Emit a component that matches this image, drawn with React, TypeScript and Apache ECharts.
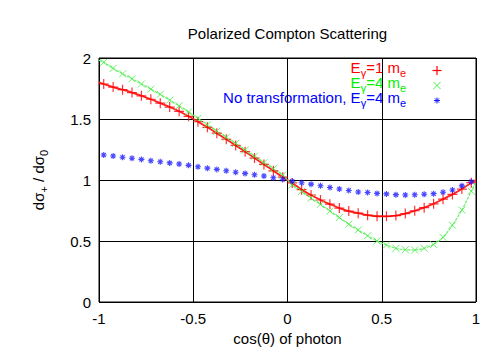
import React, { useEffect, useRef } from "react";
import * as echarts from "echarts";

// bin centres of cos(theta)
const cosTheta = [
  -0.975, -0.925, -0.875, -0.825, -0.775, -0.725, -0.675, -0.625, -0.575, -0.525,
  -0.475, -0.425, -0.375, -0.325, -0.275, -0.225, -0.175, -0.125, -0.075, -0.025,
  0.025, 0.075, 0.125, 0.175, 0.225, 0.275, 0.325, 0.375, 0.425, 0.475,
  0.525, 0.575, 0.625, 0.675, 0.725, 0.775, 0.825, 0.875, 0.925, 0.975,
];

// E_gamma = 1 m_e
const ratioE1 = [
  1.787, 1.762, 1.74, 1.717, 1.69, 1.662, 1.63, 1.598, 1.563, 1.522,
  1.478, 1.432, 1.384, 1.334, 1.283, 1.232, 1.18, 1.128, 1.075, 1.023,
  0.976, 0.921, 0.877, 0.836, 0.802, 0.77, 0.745, 0.728, 0.712, 0.703,
  0.702, 0.708, 0.725, 0.748, 0.773, 0.805, 0.843, 0.882, 0.926, 0.978,
];

// E_gamma = 4 m_e
const ratioE4 = [
  1.965, 1.915, 1.87, 1.83, 1.787, 1.745, 1.702, 1.655, 1.608, 1.558,
  1.505, 1.452, 1.4, 1.35, 1.3, 1.245, 1.195, 1.142, 1.093, 1.04,
  0.96, 0.907, 0.852, 0.8, 0.745, 0.692, 0.638, 0.59, 0.543, 0.5,
  0.467, 0.44, 0.429, 0.426, 0.44, 0.472, 0.53, 0.63, 0.754, 0.908,
];

// No transformation, E_gamma = 4 m_e
const ratioNoTransform = [
  1.205, 1.197, 1.187, 1.178, 1.169, 1.158, 1.15, 1.14, 1.131, 1.12,
  1.109, 1.097, 1.087, 1.076, 1.064, 1.054, 1.043, 1.033, 1.019, 1.006,
  0.99, 0.977, 0.966, 0.953, 0.938, 0.926, 0.914, 0.902, 0.897, 0.89,
  0.886, 0.88, 0.877, 0.879, 0.883, 0.888, 0.899, 0.918, 0.952, 0.986,
];

// curve values at the ends and at the centre (for the connecting lines)
const curveExtraX = [-1, 0, 1];
const curveExtraE1 = [1.8, 1.0, 1.0];
const curveExtraE4 = [1.98, 1.0, 0.99];

const xTicks = [-1, -0.5, 0, 0.5, 1];
const yTicks = [0, 0.5, 1, 1.5, 2];

const titleText = "Polarized Compton Scattering";
const xName = "cos(θ) of photon";

const FONT = "'Liberation Sans', Arial, Helvetica, sans-serif";

const PLUS = "path://M0 5 L10 5 M5 0 L5 10";
const CROSS = "path://M0 0 L10 10 M0 10 L10 0";
const STAR = "path://M0 5 L10 5 M5 0 L5 10 M1.5 1.5 L8.5 8.5 M1.5 8.5 L8.5 1.5";

function pairs(xs: number[], ys: number[]) {
  return xs.map((x, i) => [x, ys[i]]);
}
function curve(xs: number[], ys: number[], ex: number[], ey: number[]) {
  return pairs(xs, ys)
    .concat(pairs(ex, ey))
    .sort((a, b) => a[0] - b[0]);
}

const legendItems = [
  { sub: "γ", mid: "=1 m", color: "#ff0000", markColor: "#ff0000", mark: "plus" },
  { sub: "γ", mid: "=4 m", color: "#00ee00", markColor: "#44ee44", mark: "cross" },
  { pre: "No transformation, ", sub: "γ", mid: "=4 m", color: "#0000ff", markColor: "#1a1aff", mark: "star" },
];

const LH = 22;

export default function App() {
  const ref = useRef<HTMLDivElement>(null);
  useEffect(() => {
    if (!ref.current) return;
    const chart = echarts.init(ref.current, undefined, { renderer: "svg" });

    const legendX = 406;
    const symX = 437;
    const graphics: any[] = [
      {
        type: "text",
        x: 287.5,
        y: 33,
        style: {
          text: titleText,
          font: `15px ${FONT}`,
          fill: "#000",
          textAlign: "center",
          textVerticalAlign: "middle",
        },
      },
    ];
    legendItems.forEach((it, i) => {
      const cy = 67.5 + i * 15;
      const color = it.color;
      graphics.push({
        type: "text",
        x: legendX,
        y: cy - LH / 2,
        style: {
          text: `{n|${it.pre || ""}E}{s|${it.sub}}{n|${it.mid}}{s|e}`,
          textAlign: "right",
          textVerticalAlign: "top",
          rich: {
            n: { fontSize: 15, fontFamily: FONT, lineHeight: LH, fill: color, color },
            s: { fontSize: 11, fontFamily: FONT, verticalAlign: "bottom", fill: color, color },
          },
        },
      });
      const sy = cy + 3;
      const h = it.mark === "plus" ? 4.5 : it.mark === "cross" ? 3.5 : 3;
      const lines: number[][][] = [];
      if (it.mark === "plus" || it.mark === "star") {
        lines.push([[symX - h, sy], [symX + h, sy]]);
        lines.push([[symX, sy - h], [symX, sy + h]]);
      }
      if (it.mark === "cross" || it.mark === "star") {
        const d = it.mark === "star" ? h * 0.7 : h;
        lines.push([[symX - d, sy - d], [symX + d, sy + d]]);
        lines.push([[symX - d, sy + d], [symX + d, sy - d]]);
      }
      lines.forEach((l) => {
        graphics.push({
          type: "line",
          shape: { x1: l[0][0], y1: l[0][1], x2: l[1][0], y2: l[1][1] },
          style: { stroke: it.markColor, lineWidth: it.mark === "plus" ? 1.2 : 1.0 },
        });
      });
    });

    chart.setOption({
      animation: false,
      backgroundColor: "#fff",
      textStyle: { fontFamily: FONT },
      grid: {
        left: 99,
        right: 15,
        top: 58,
        bottom: 62,
        show: true,
        borderColor: "#000",
        borderWidth: 1,
        backgroundColor: "transparent",
      },
      xAxis: {
        type: "value",
        min: xTicks[0],
        max: xTicks[xTicks.length - 1],
        interval: 0.5,
        name: xName,
        nameLocation: "middle",
        nameGap: 23,
        nameTextStyle: { fontSize: 15, color: "#000", fontFamily: FONT },
        axisLine: { show: false },
        axisTick: { show: false },
        axisLabel: { fontSize: 15, color: "#000", margin: 9, fontFamily: FONT },
        splitLine: { show: true, lineStyle: { color: "#000", width: 1 } },
      },
      yAxis: {
        type: "value",
        min: yTicks[0],
        max: yTicks[yTicks.length - 1],
        interval: 0.5,
        name: "{n|dσ}{s|+}{n| / dσ}{s|0}",
        nameLocation: "middle",
        nameGap: 50,
        nameRotate: 90,
        nameTextStyle: {
          color: "#000",
          rich: {
            n: { fontSize: 15, fontFamily: FONT, lineHeight: LH, color: "#000" },
            s: { fontSize: 11, fontFamily: FONT, verticalAlign: "bottom", color: "#000" },
          },
        },
        axisLine: { show: false },
        axisTick: { show: false },
        axisLabel: { fontSize: 15, color: "#000", margin: 8, fontFamily: FONT },
        splitLine: { show: true, lineStyle: { color: "#000", width: 1 } },
      },
      series: [
        {
          type: "line",
          data: curve(cosTheta, ratioE1, curveExtraX, curveExtraE1),
          showSymbol: false,
          smooth: 0.3,
          lineStyle: { color: "#ff2020", width: 1.8 },
          silent: true,
          z: 3,
        },
        {
          type: "line",
          data: curve(cosTheta, ratioE4, curveExtraX, curveExtraE4),
          showSymbol: false,
          smooth: 0.3,
          lineStyle: { color: "#66f066", width: 1.2, type: [3, 1] },
          silent: true,
          z: 3,
        },
        {
          name: "E_γ=1 m_e",
          type: "scatter",
          data: pairs(cosTheta, ratioE1),
          symbol: PLUS,
          symbolSize: 10,
          itemStyle: { color: "rgba(0,0,0,0)", borderColor: "#ff0000", borderWidth: 1.2 },
          z: 4,
        },
        {
          name: "E_γ=4 m_e",
          type: "scatter",
          data: pairs(cosTheta, ratioE4),
          symbol: CROSS,
          symbolSize: 7,
          itemStyle: { color: "rgba(0,0,0,0)", borderColor: "#44ee44", borderWidth: 1.0 },
          z: 4,
        },
        {
          name: "No transformation, E_γ=4 m_e",
          type: "scatter",
          data: pairs(cosTheta, ratioNoTransform),
          symbol: STAR,
          symbolSize: 6,
          itemStyle: { color: "rgba(0,0,0,0)", borderColor: "#1a1aff", borderWidth: 1.1 },
          z: 4,
        },
      ],
      graphic: graphics,
    });
    return () => chart.dispose();
  }, []);
  return (
    <div
      ref={ref}
      style={{ position: "fixed", left: 0, top: 0, width: 491, height: 364, background: "#fff" }}
    />
  );
}
